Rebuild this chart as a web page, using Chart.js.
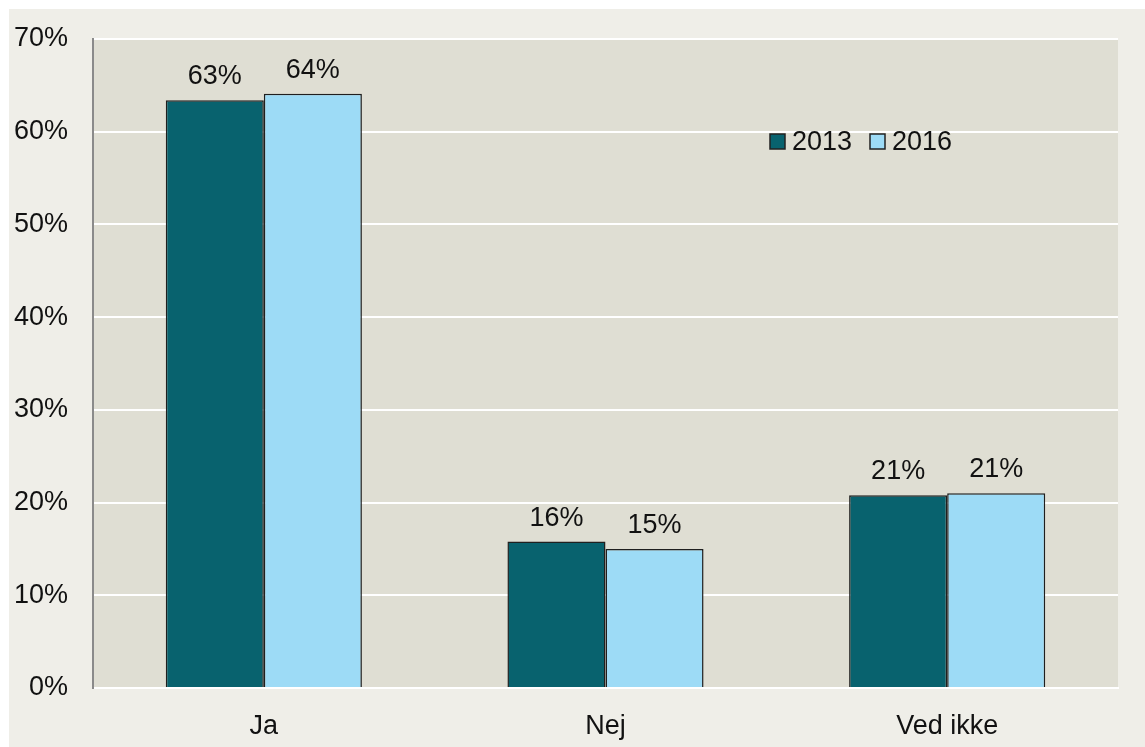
<!DOCTYPE html>
<html>
<head>
<meta charset="utf-8">
<script src="https://cdn.jsdelivr.net/npm/chart.js@4"></script>
<style>
  body { margin: 0; background: #fff; }
  #wrap { position: absolute; left: 9px; top: 9px; width: 1136px; height: 738px; background: #EFEEE8; }
</style>
</head>
<body>
<div id="wrap"><canvas id="svarChart" width="1136" height="738"></canvas></div>
<script>
const categories = ['Ja', 'Nej', 'Ved ikke'];
const years = ['2013', '2016'];
const values2013 = [63.4, 15.8, 20.8];
const values2016 = [64.1, 15.0, 21.0];
const yTicks = [0, 10, 20, 30, 40, 50, 60, 70];

const font = { family: '"Liberation Sans", Arial, sans-serif', size: 27 };

// plot background colour behind the bars
const plotBg = {
	id: 'plotBg',
	beforeDraw(chart) {
		const a = chart.chartArea, c = chart.ctx;
		c.save();
		c.fillStyle = '#DFDED3';
		c.fillRect(a.left, a.top, a.right - a.left, a.bottom - a.top);
		c.restore();
	}
};

// value labels above bars + legend in the plot
const labelsAndLegend = {
	id: 'labelsAndLegend',
	afterDatasetsDraw(chart) {
		const c = chart.ctx;
		c.save();
		c.font = font.size + 'px ' + font.family;
		c.fillStyle = '#111';
		c.textAlign = 'center';
		c.textBaseline = 'alphabetic';
		chart.data.datasets.forEach(function(ds, i) {
			chart.getDatasetMeta(i).data.forEach(function(bar, j) {
				c.fillText(Math.round(ds.data[j]) + '%', bar.x, bar.y - 16);
			});
		});
		// legend
		let x = 761;
		const y = 133;
		c.textAlign = 'left';
		c.textBaseline = 'middle';
		chart.data.datasets.forEach(function(ds) {
			c.fillStyle = ds.backgroundColor;
			c.fillRect(x, y - 8, 15, 15);
			c.strokeStyle = '#222';
			c.lineWidth = 1.5;
			c.strokeRect(x, y - 8, 15, 15);
			c.fillStyle = '#111';
			c.fillText(ds.label, x + 22, y + 1);
			x += 100;
		});
		c.restore();
	}
};

const ctx = document.getElementById('svarChart').getContext('2d');
const myChart = new Chart(ctx, {
	type: 'bar',
	data: {
		labels: categories,
		datasets: [
			{
				label: years[0],
				data: values2013,
				backgroundColor: '#08626E',
				borderColor: '#1f1f1f',
				borderWidth: 1.5,
				categoryPercentage: 0.574,
				barPercentage: 1.0
			},
			{
				label: years[1],
				data: values2016,
				backgroundColor: '#9DDBF6',
				borderColor: '#1f1f1f',
				borderWidth: 1.5,
				categoryPercentage: 0.574,
				barPercentage: 1.0
			}
		]
	},
	options: {
		responsive: false,
		animation: false,
		layout: { padding: { top: 30, right: 27, left: 0, bottom: 0 } },
		plugins: {
			legend: { display: false },
			tooltip: { enabled: false }
		},
		scales: {
			x: {
				grid: { display: false },
				border: { color: '#ffffff', width: 2 },
				ticks: { color: '#111', font: font, padding: 14 },
				afterFit(scale) { scale.height = 59; scale.paddingLeft = 0; scale.paddingRight = 0; }
			},
			y: {
				min: 0,
				max: 70,
				afterBuildTicks(scale) { scale.ticks = yTicks.map(v => ({ value: v })); },
				grid: { color: '#ffffff', lineWidth: 2, drawTicks: false },
				border: { color: '#8a8a8a', width: 2 },
				ticks: { color: '#111', font: font, padding: 25, callback: v => v + '%' },
				afterFit(scale) { scale.width = 84; scale.paddingTop = 0; scale.paddingBottom = 0; }
			}
		}
	},
	plugins: [plotBg, labelsAndLegend]
});
</script>
</body>
</html>
